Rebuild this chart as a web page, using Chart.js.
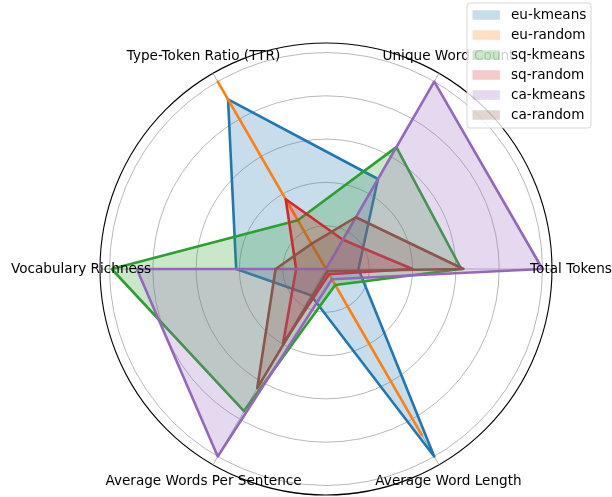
<!DOCTYPE html>
<html><head><meta charset="utf-8">
<script src="https://cdn.jsdelivr.net/npm/chart.js@4.4.0/dist/chart.umd.min.js"></script>
<style>html,body{margin:0;padding:0;background:#fff;overflow:hidden}#wrap{width:612px;height:497px;position:relative}</style>
</head><body><div id="wrap"><canvas id="c"></canvas></div>
<script>
// Categories in Chart.js clockwise order starting at the right (matplotlib CCW order reversed)
const categories = ['Total Tokens', 'Average Word Length', 'Average Words Per Sentence', 'Vocabulary Richness', 'Type-Token Ratio (TTR)', 'Unique Word Count'];
const seriesNames = ['eu-kmeans', 'eu-random', 'sq-kmeans', 'sq-random', 'ca-kmeans', 'ca-random'];
const euKmeans = [0.15, 1.00, 0.14, 0.415, 0.905, 0.48];
const euRandom = [0.0, 0.886, 0.0, 0.0, 1.00, 0.0];
const sqKmeans = [0.625, 0.085, 0.758, 0.99, 0.26, 0.65];
const sqRandom = [0.40, 0.028, 0.397, 0.138, 0.372, 0.156];
const caKmeans = [1.00, 0.055, 1.00, 0.874, 0.00, 1.00];
const caRandom = [0.635, 0.012, 0.635, 0.233, 0.134, 0.276];
const gridTicks = [0, 0.2, 0.4, 0.6, 0.8, 1.0];
const rMax = 1.044;

const seriesValues = [euKmeans, euRandom, sqKmeans, sqRandom, caKmeans, caRandom];
const colors = ['#1f77b4', '#ff7f0e', '#2ca02c', '#d62728', '#9467bd', '#8c564b'];
function rgba(hex, a) {
  const n = parseInt(hex.slice(1), 16);
  return `rgba(${(n >> 16) & 255},${(n >> 8) & 255},${n & 255},${a})`;
}
const FONT = '"DejaVu Sans", "Liberation Sans", sans-serif';
Chart.defaults.font.family = FONT;

const datasets = seriesNames.map((name, i) => ({
  label: name,
  data: seriesValues[i],
  borderColor: colors[i],
  backgroundColor: rgba(colors[i], 0.25),
  borderWidth: 2.6,
  borderJoinStyle: 'round',
  fill: true,
  pointRadius: 0,
  pointHoverRadius: 0,
  tension: 0,
  order: seriesNames.length - i
}));

const overlayPlugin = {
  id: 'overlay',
  afterDraw(chart) {
    const ctx = chart.ctx;
    const r = chart.scales.r;
    ctx.save();
    ctx.font = '13.6px ' + FONT;
    ctx.fillStyle = '#000';
    ctx.textAlign = 'center';
    ctx.textBaseline = 'middle';
    const dist = r.drawingArea * 245 / 226;
    categories.forEach((c, i) => {
      const p = r.getPointPosition(i, dist);
      ctx.fillText(c, p.x, p.y);
    });
    // legend (matplotlib style, upper right)
    const lx = chart.width - 145, ly = 3, lw = 124, lh = 125, rad = 3;
    ctx.beginPath();
    ctx.moveTo(lx + rad, ly);
    ctx.arcTo(lx + lw, ly, lx + lw, ly + lh, rad);
    ctx.arcTo(lx + lw, ly + lh, lx, ly + lh, rad);
    ctx.arcTo(lx, ly + lh, lx, ly, rad);
    ctx.arcTo(lx, ly, lx + lw, ly, rad);
    ctx.closePath();
    ctx.fillStyle = 'rgba(255,255,255,0.8)';
    ctx.fill();
    ctx.strokeStyle = 'rgba(204,204,204,0.8)';
    ctx.lineWidth = 1;
    ctx.stroke();
    ctx.textAlign = 'left';
    seriesNames.forEach((name, i) => {
      const y = ly + 12 + 20 * i;
      ctx.fillStyle = rgba(colors[i], 0.25);
      ctx.fillRect(lx + 5.5, y - 4.75, 27.4, 9.5);
      ctx.fillStyle = '#000';
      ctx.fillText(name, lx + 44, y);
    });
    ctx.restore();
  }
};

new Chart(document.getElementById('c'), {
  type: 'radar',
  data: { labels: categories, datasets },
  options: {
    responsive: true,
    maintainAspectRatio: false,
    animation: false,
    devicePixelRatio: 1,
    layout: { padding: { left: 100, right: 60, top: 43, bottom: 2 } },
    plugins: { legend: { display: false }, tooltip: { enabled: false } },
    elements: { line: { tension: 0 } },
    scales: {
      r: {
        min: 0,
        max: rMax,
        startAngle: 90,
        afterBuildTicks: (scale) => {
          scale.ticks = gridTicks.concat([rMax]).map(v => ({ value: v }));
        },
        ticks: { display: false },
        pointLabels: { display: false },
        grid: {
          circular: true,
          color: (c) => (c.tick && c.tick.value > 1.01) ? '#000000' : '#b0b0b0',
          lineWidth: (c) => (c.tick && c.tick.value > 1.01) ? 1.1 : 0.9
        },
        angleLines: { display: true, color: '#b0b0b0', lineWidth: 0.9 }
      }
    }
  },
  plugins: [overlayPlugin]
});
</script></body></html>
